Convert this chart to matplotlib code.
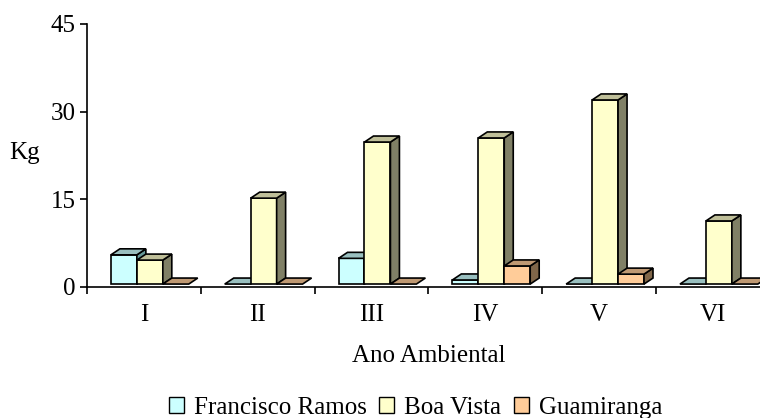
import matplotlib.pyplot as plt
from matplotlib.patches import Polygon, Patch

plt.rcParams['font.family'] = ['Liberation Serif', 'DejaVu Serif']

# data (heights measured from the chart floor)
anos = ['I', 'II', 'III', 'IV', 'V', 'VI']
series = ['Francisco Ramos', 'Boa Vista', 'Guamiranga']
francisco_ramos = [5.0, 0, 4.4, 0.7, 0, 0]
boa_vista = [4.1, 14.7, 24.3, 25.0, 31.5, 10.8]
guamiranga = [0, 0, 0, 3.1, 1.7, 0]

# front / top / side colours per series
front = ['#CCFFFF', '#FFFFCC', '#FFCC99']
top = ['#99BFBF', '#BFBF99', '#BF9973']
side = ['#669999', '#808066', '#806649']

fig = plt.figure(figsize=(7.6, 4.18), dpi=100, facecolor='white')
ax = fig.add_axes([0.1145, 0.3134, 0.8985, 0.6292])
ax.set_xlim(0, 6)
ax.set_ylim(0, 45)

bar_w = 0.228
offset = 0.21
floor = 0.5   # bars stand slightly above the axis line
dx = 0.079    # depth, x direction
dy = 1.03     # depth, y direction

values = [francisco_ramos, boa_vista, guamiranga]
for i in range(len(anos)):
    for s in range(3):
        x0 = i + offset + s * bar_w
        x1 = x0 + bar_w
        b = floor
        h = floor + values[s][i]
        kw = dict(edgecolor='black', linewidth=1.2, joinstyle='miter', clip_on=False)
        if h > b:
            ax.add_patch(Polygon([(x0, b), (x1, b), (x1, h), (x0, h)], facecolor=front[s], **kw))
            ax.add_patch(Polygon([(x1, b), (x1 + dx, b + dy), (x1 + dx, h + dy), (x1, h)], facecolor=side[s], **kw))
        ax.add_patch(Polygon([(x0, h), (x1, h), (x1 + dx, h + dy), (x0 + dx, h + dy)], facecolor=top[s], **kw))

ax.set_xticks(range(7))
ax.set_xticklabels([])
ax.set_xticks([i + 0.5 for i in range(6)], minor=True)
ax.set_xticklabels(anos, minor=True)
ax.tick_params(axis='x', which='minor', length=0, pad=12.5, labelsize=18)
ax.tick_params(axis='x', which='major', length=5, width=1.2, direction='out')
ax.set_yticks([0, 15, 30, 45])
ax.tick_params(axis='y', length=5, width=1.2, direction='out', labelsize=18, pad=3)

for sp in ['top', 'right']:
    ax.spines[sp].set_visible(False)
for sp in ['left', 'bottom']:
    ax.spines[sp].set_linewidth(1.2)

fig.text(429 / 760, 1 - 362 / 418, 'Ano Ambiental', fontsize=18, ha='center', va='baseline')
fig.text(25 / 760, 1 - 159 / 418, 'Kg', fontsize=18, ha='center', va='baseline')

handles = [Patch(facecolor=front[s], edgecolor='black', linewidth=1.0) for s in range(3)]
fig.legend(handles, series, loc='lower center', bbox_to_anchor=(0.547, -0.044), ncol=3, frameon=False,
           fontsize=18, handlelength=0.6, handleheight=0.6, handletextpad=0.4, columnspacing=0.5,
           borderpad=0.2)

fig.savefig('out.png', dpi=100)
